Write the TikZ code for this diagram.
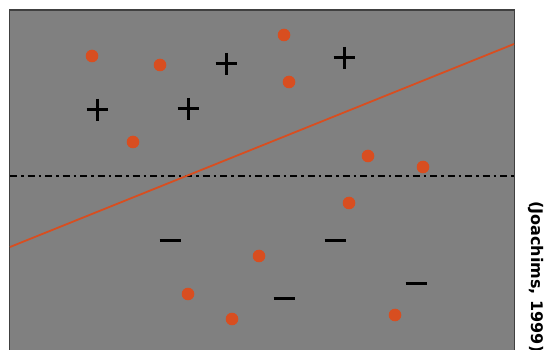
\documentclass[tikz,border=0pt]{standalone}
\usepackage{fontspec}
\newfontfamily\notefont{DejaVu Sans}
\usepackage{xcolor}
\definecolor{dotorange}{RGB}{216,78,32}
\usetikzlibrary{positioning}

\begin{document}
\begin{tikzpicture}[
  x=1pt, y=-1pt,
  panel/.style={fill=black!50, draw=black!75, line width=1.3pt},
  sample/.style={fill=dotorange},
  signmark/.style={draw=black, line width=3pt},
  hyper/.style={draw=dotorange, line width=1.8pt},
  margin/.style={draw=black, line width=1.7pt, dash pattern=on 7pt off 4pt on 2.5pt off 4pt}
]
  \useasboundingbox (0,0) rectangle (547,350);
  \path[panel] (9.5,10) rectangle (514.5,360);

  % separating lines
  \draw[margin] (10,176) -- (514,176);
  \draw[hyper] (10,247) -- (514,44);

  % unlabelled samples
  \foreach \px/\py in {92/56, 160/65, 284/35, 289/82, 133/142, 368/156,
                       423/167, 349/203, 259/256, 188/294, 232/319, 395/315}
    \fill[sample] (\px,\py) circle (6.3);

  % positive examples
  \foreach \px/\py in {97/110, 188/109, 226/64, 344/58} {
    \draw[signmark] (\px-10.5,\py) -- (\px+10.5,\py);
    \draw[signmark] (\px,\py-11) -- (\px,\py+11);
  }

  % negative examples
  \foreach \px/\py in {170/241, 335/241, 284/299, 416/284}
    \draw[signmark] (\px-10.5,\py) -- (\px+10.5,\py);

  \node[rotate=-90, anchor=west, inner sep=0pt, font=\notefont\bfseries\fontsize{16}{19}\selectfont]
    (cite) at (535.5,201) {(Joachims, 1999)};
\end{tikzpicture}
\end{document}
